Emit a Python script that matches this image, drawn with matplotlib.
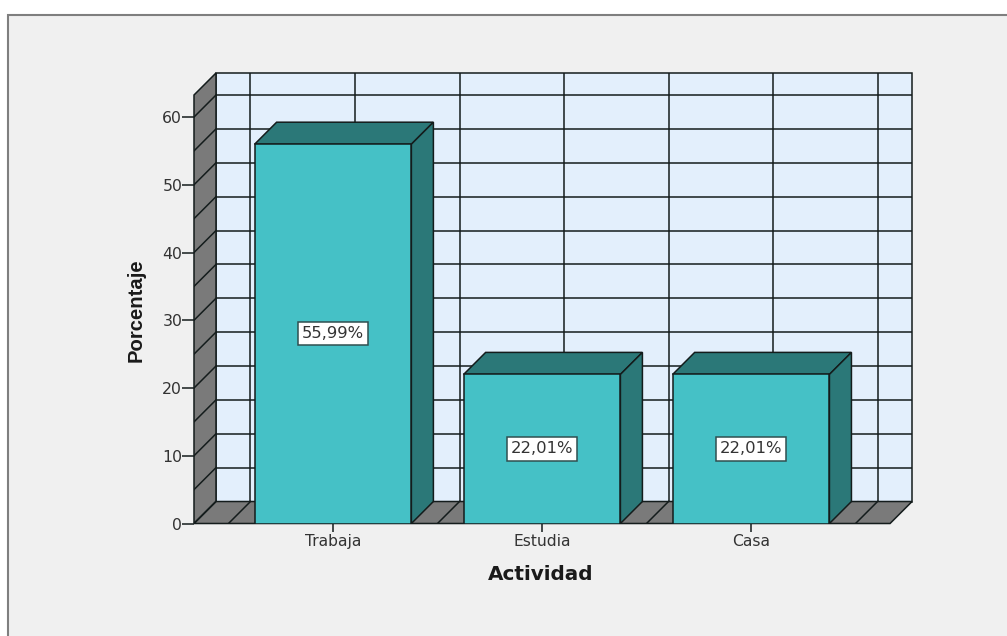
"""Bar chart with a fake 3D box look, Actividad vs Porcentaje."""
import matplotlib

matplotlib.use("Agg")
import matplotlib.pyplot as plt
from matplotlib.patches import Polygon, Rectangle

categories = ["Trabaja", "Estudia", "Casa"]
values = [55.99, 22.01, 22.01]
value_labels = ["55,99%", "22,01%", "22,01%"]
y_ticks = [0, 10, 20, 30, 40, 50, 60]
minor_grid = [0, 5, 10, 15, 20, 25, 30, 35, 40, 45, 50, 55, 60]
boundaries = [-0.5, 0.5, 1.5, 2.5]

W, H = 1007, 636
PX_X = 209.0  # pixels per category
PX_Y = 6.775  # pixels per percent
DX = 22 / PX_X  # depth offset in data units
DY = 22 / PX_Y
XMIN, XMAX = -0.665, 2.77
YMAX = 66.5
FLOOR_R = 2.665
BAR_W = 0.75

EDGE = "#141c1c"
LW = 1.1

fig = plt.figure(figsize=(W / 100, H / 100), dpi=100, facecolor="white")
fig.patches.append(
    Rectangle((8 / W, -0.1), 1.1, 1.1 - 15 / H, transform=fig.transFigure,
              facecolor="#f0f0f0", edgecolor="#7f7f7f", linewidth=1.5, zorder=-1)
)
ax = fig.add_axes([194 / W, 1 - 523.5 / H, (912 - 194) / W, 450.5 / H])
ax.set_xlim(XMIN, XMAX)
ax.set_ylim(0, YMAX)
ax.patch.set_visible(False)
for s in ax.spines.values():
    s.set_visible(False)


def poly(pts, color, z=2):
    ax.add_patch(Polygon(pts, closed=True, facecolor=color, edgecolor=EDGE,
                         linewidth=LW, joinstyle="miter", zorder=z, clip_on=False))


wall_l, wall_r = XMIN + DX, FLOOR_R + DX
# back wall + grid
poly([(wall_l, DY), (wall_r, DY), (wall_r, YMAX), (wall_l, YMAX)], "#e3effc", 1)
for v in minor_grid:
    ax.plot([wall_l, wall_r], [DY + v, DY + v], color=EDGE, lw=LW, zorder=1.5)
for b in boundaries + [0, 1, 2]:
    ax.plot([b + DX, b + DX], [DY, YMAX], color=EDGE, lw=LW, zorder=1.5)

# left wall and floor
poly([(XMIN, 0), (wall_l, DY), (wall_l, YMAX), (XMIN, YMAX - DY)], "#7a7a7a")
poly([(XMIN, 0), (FLOOR_R, 0), (wall_r, DY), (wall_l, DY)], "#7a7a7a")
for v in minor_grid:
    ax.plot([XMIN, wall_l], [v, v + DY], color=EDGE, lw=LW, zorder=2.5)
for b in boundaries:
    ax.plot([b, b + DX], [0, DY], color=EDGE, lw=LW, zorder=2.5)

# bars
for i, (v, lab) in enumerate(zip(values, value_labels)):
    l, r = i - BAR_W / 2, i + BAR_W / 2
    poly([(l, v), (r, v), (r + DX, v + DY), (l + DX, v + DY)], "#2b7878", 3)
    poly([(r, 0), (r + DX, DY), (r + DX, v + DY), (r, v)], "#2b7878", 3)
    ax.bar(i, v, width=BAR_W, color="#45c1c6", edgecolor=EDGE, linewidth=LW, zorder=4)
    ax.text(i, v / 2, lab, ha="center", va="center", fontsize=11.8, color="#333333",
            zorder=5, bbox=dict(boxstyle="square,pad=0.25", facecolor="white",
                                edgecolor="#2f4f50", linewidth=1.1))

ax.set_yticks(y_ticks)
ax.set_xticks(range(len(categories)), categories)
ax.tick_params(axis="y", length=8.5, width=1.1, color=EDGE, labelsize=11.3,
               labelcolor="#333333", pad=0)
ax.tick_params(axis="x", length=6, width=1.1, color=EDGE, labelsize=11.2,
               labelcolor="#333333", pad=1.5)

ax.set_xlabel("Actividad", fontsize=14.4, fontweight="bold", color="#1a1a1a")
ax.xaxis.set_label_coords((541 - 194) / 718, -(574 - 523.5) / 450.5)
ax.xaxis.label.set_va("center")
ax.set_ylabel("Porcentaje", fontsize=14.6, fontweight="bold", color="#1a1a1a",
              family="Liberation Sans")
ax.yaxis.set_label_coords((136 - 194) / 718, (523.5 - 310) / 450.5)
ax.yaxis.label.set_va("center")

fig.savefig("out.png", dpi=100)
plt.close(fig)
